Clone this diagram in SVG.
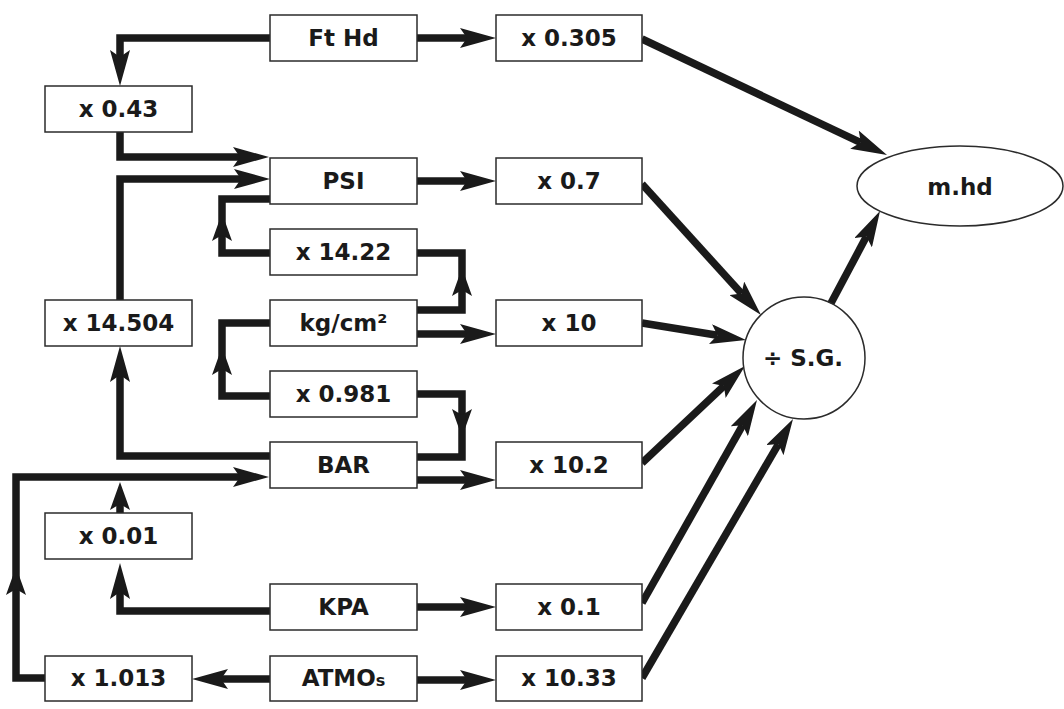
<svg xmlns="http://www.w3.org/2000/svg" width="1064" height="709" viewBox="0 0 1064 709">
<style>
.box{fill:#fff;stroke:#2b2b2b;stroke-width:1.5}
.lbl{font-family:"DejaVu Sans","Liberation Sans",sans-serif;font-weight:bold;font-size:23px;fill:#1a1a1a;text-anchor:middle}
.c{fill:none;stroke:#1a1a1a;stroke-width:7.5;stroke-linejoin:miter;stroke-linecap:butt}
.a{marker-end:url(#ah)}
.s{marker-end:url(#ahs)}
</style>
<defs>
<marker id="ah" viewBox="0 -10 36 20" markerWidth="36" markerHeight="20" refX="7" refY="0" orient="auto" markerUnits="userSpaceOnUse">
<path d="M36,0 L0,-10 L7,0 L0,10 Z" fill="#1a1a1a"/>
</marker>
<marker id="ahs" viewBox="0 -10 28 20" markerWidth="28" markerHeight="20" refX="6" refY="0" orient="auto" markerUnits="userSpaceOnUse">
<path d="M28,0 L0,-10 L6,0 L0,10 Z" fill="#1a1a1a"/>
</marker>
</defs>
<rect width="1064" height="709" fill="#fff"/>
<g id="connectors">
<path class="c a" d="M417,38 H467"/>
<path class="c a" d="M270,38 H120 V57"/>
<path class="c a" d="M120,132 V157 H240"/>
<path class="c a" d="M120,300 V179 H241"/>
<path class="c a" d="M417,181 H467"/>
<path class="c s" d="M270,253 H222 V235"/>
<path class="c" d="M222,235 V199 H270"/>
<path class="c s" d="M417,310 H462 V290"/>
<path class="c" d="M462,290 V253 H417"/>
<path class="c a" d="M417,334 H467"/>
<path class="c s" d="M270,396 H222 V369"/>
<path class="c" d="M222,369 V323 H270"/>
<path class="c s" d="M417,394 H462 V415"/>
<path class="c" d="M462,415 V457 H417"/>
<path class="c a" d="M417,480 H467"/>
<path class="c a" d="M270,456 H120 V375"/>
<path class="c s" d="M45,678 H16 V589"/>
<path class="c a" d="M16,589 V477 H240"/>
<path class="c s" d="M120,513 V504"/>
<path class="c a" d="M272,611 H120 V592"/>
<path class="c a" d="M417,607 H467"/>
<path class="c a" d="M270,679 H221"/>
<path class="c a" d="M417,680 H467"/>
<path class="c a" d="M642,39 L860.8,142.6"/>
<path class="c a" d="M642,184 L741.5,293.5"/>
<path class="c a" d="M642,323 L717.4,335.3"/>
<path class="c a" d="M642,463 L723.9,385.9"/>
<path class="c a" d="M642,603 L742.7,425.2"/>
<path class="c a" d="M642,678 L778.4,444.1"/>
<path class="c a" d="M830,305 L866.4,236.6"/>
</g>
<g id="ft-hd"><rect class="box" x="270" y="15" width="147" height="46"/><text class="lbl" x="343.5" y="46">Ft Hd</text></g>
<g id="x0305"><rect class="box" x="496" y="15" width="146" height="46"/><text class="lbl" x="569" y="46">x 0.305</text></g>
<g id="x043"><rect class="box" x="45" y="86" width="147" height="46"/><text class="lbl" x="118.5" y="117">x 0.43</text></g>
<g id="psi"><rect class="box" x="270" y="158" width="147" height="46"/><text class="lbl" x="343.5" y="189">PSI</text></g>
<g id="x07"><rect class="box" x="496" y="158" width="146" height="46"/><text class="lbl" x="569" y="189">x 0.7</text></g>
<g id="x1422"><rect class="box" x="270" y="229" width="147" height="46"/><text class="lbl" x="343.5" y="260">x 14.22</text></g>
<g id="x14504"><rect class="box" x="45" y="300" width="147" height="46"/><text class="lbl" x="118.5" y="331">x 14.504</text></g>
<g id="kgcm2"><rect class="box" x="270" y="300" width="147" height="46"/><text class="lbl" x="343.5" y="331">kg/cm²</text></g>
<g id="x10"><rect class="box" x="496" y="300" width="146" height="46"/><text class="lbl" x="569" y="331">x 10</text></g>
<g id="x0981"><rect class="box" x="270" y="371" width="147" height="46"/><text class="lbl" x="343.5" y="402">x 0.981</text></g>
<g id="bar"><rect class="box" x="270" y="442" width="147" height="46"/><text class="lbl" x="343.5" y="473">BAR</text></g>
<g id="x102"><rect class="box" x="496" y="442" width="146" height="46"/><text class="lbl" x="569" y="473">x 10.2</text></g>
<g id="x001"><rect class="box" x="45" y="513" width="147" height="46"/><text class="lbl" x="118.5" y="544">x 0.01</text></g>
<g id="kpa"><rect class="box" x="270" y="584" width="147" height="46"/><text class="lbl" x="343.5" y="615">KPA</text></g>
<g id="x01"><rect class="box" x="496" y="584" width="146" height="46"/><text class="lbl" x="569" y="615">x 0.1</text></g>
<g id="x1013"><rect class="box" x="45" y="656" width="147" height="45"/><text class="lbl" x="118.5" y="686">x 1.013</text></g>
<g id="atmos"><rect class="box" x="270" y="656" width="147" height="45"/><text class="lbl" x="343.5" y="686">ATMO<tspan font-size="16">s</tspan></text></g>
<g id="x1033"><rect class="box" x="496" y="656" width="146" height="45"/><text class="lbl" x="569" y="686">x 10.33</text></g>
<g id="sg"><circle class="box" cx="804" cy="358" r="61"/><text class="lbl" x="803" y="366">÷ S.G.</text></g>
<g id="mhd"><ellipse class="box" cx="960" cy="186" rx="103" ry="40"/><text class="lbl" x="960" y="195">m.hd</text></g>
</svg>
